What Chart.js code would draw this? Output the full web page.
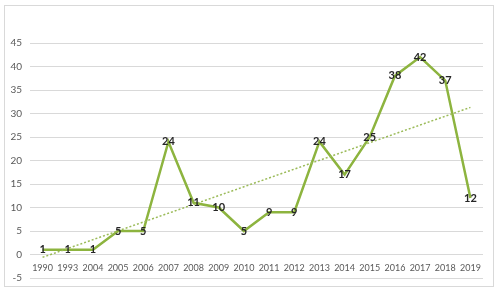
<!DOCTYPE html>
<html>
<head>
<meta charset="utf-8">
<script src="https://cdn.jsdelivr.net/npm/chart.js@4/dist/chart.umd.min.js"></script>
<style>
  html, body { margin: 0; padding: 0; background: #fff; }
  #wrap { position: absolute; left: 0; top: 0; width: 500px; height: 294px; }
  #frame { position: absolute; left: 4px; top: 5px; width: 490px; height: 282px; border: 1px solid #d9d9d9; box-sizing: border-box; }
</style>
</head>
<body>
<div id="wrap">
  <canvas id="c" width="500" height="294"></canvas>
  <div id="frame"></div>
</div>
<script>
const categories = ["1990","1993","2004","2005","2006","2007","2008","2009","2010","2011","2012","2013","2014","2015","2016","2017","2018","2019"];
const counts = [1,1,1,5,5,24,11,10,5,9,9,24,17,25,38,42,37,12];
const trendStart = -0.6;
const trendEnd = 31.3;
const yTicks = [-5,0,5,10,15,20,25,30,35,40,45];

const trendData = categories.map((_, i) => i === 0 ? trendStart : (i === categories.length - 1 ? trendEnd : null));

const FONT = "Lato, 'Open Sans', sans-serif";

const labelPlugin = {
  id: 'pointLabels',
  afterDatasetsDraw(chart) {
    const ctx = chart.ctx;
    const meta = chart.getDatasetMeta(1);
    ctx.save();
    ctx.font = "bold 11px " + FONT;
    ctx.fillStyle = '#262626';
    ctx.textAlign = 'center';
    ctx.textBaseline = 'middle';
    meta.data.forEach((pt, i) => {
      ctx.fillText(String(counts[i]), pt.x, pt.y);
    });
    ctx.restore();
  }
};

new Chart(document.getElementById('c'), {
  type: 'line',
  data: {
    labels: categories,
    datasets: [
      {
        label: 'Trend',
        data: trendData,
        spanGaps: true,
        borderColor: '#9BBB59',
        borderWidth: 1.5,
        borderDash: [2, 2],
        pointRadius: 0,
        fill: false,
        tension: 0
      },
      {
        label: 'Count',
        data: counts,
        borderColor: '#8DB43F',
        borderWidth: 2.5,
        pointRadius: 0,
        fill: false,
        tension: 0
      }
    ]
  },
  options: {
    responsive: false,
    animation: false,
    layout: { padding: { left: 4, top: 43, right: 17, bottom: 16 } },
    plugins: { legend: { display: false }, tooltip: { enabled: false } },
    scales: {
      x: {
        position: { y: 0 },
        offset: true,
        grid: { display: false, drawTicks: false },
        border: { display: false },
        ticks: { color: '#595959', font: { family: FONT, size: 9 }, padding: 8, maxRotation: 0, autoSkip: false }
      },
      y: {
        min: -5,
        max: 45,
        afterFit: s => { s.width = 26; },
        afterBuildTicks: s => { s.ticks = yTicks.map(v => ({ value: v })); },
        grid: { color: '#d9d9d9', lineWidth: 1, drawTicks: false },
        border: { display: false },
        ticks: { color: '#595959', font: { family: FONT, size: 10 }, padding: 8 }
      }
    }
  },
  plugins: [labelPlugin]
});
</script>
</body>
</html>
